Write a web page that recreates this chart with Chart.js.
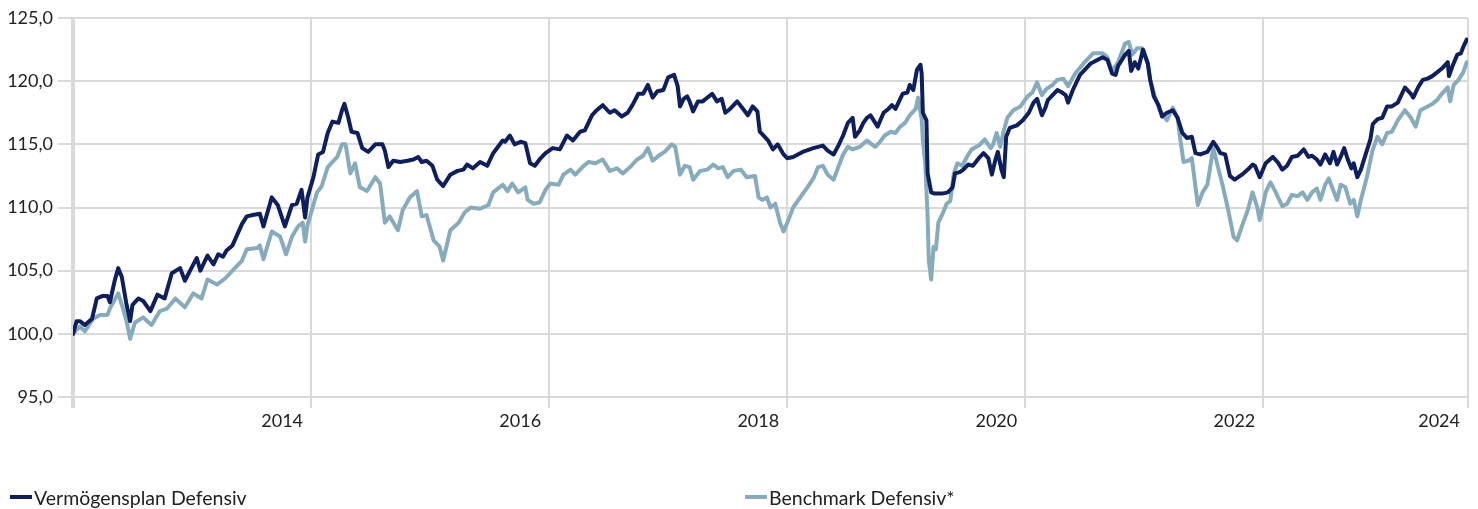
<!DOCTYPE html>
<html>
<head>
<meta charset="utf-8">
<script src="https://cdn.jsdelivr.net/npm/chart.js@4.4.1/dist/chart.umd.min.js"></script>
<style>
  body { margin: 0; background: #fff; }
  #wrap { position: relative; width: 1478px; height: 509px; }
  #legend { position: absolute; left: 0; top: 486px; width: 1478px; height: 22px; font: 19.5px Lato, sans-serif; color: #222; }
  .item { position: absolute; top: 0; height: 22px; display: flex; align-items: center; white-space: nowrap; }
  .swatch { width: 22px; height: 4px; margin-right: 2px; }
</style>
</head>
<body>
<div id="wrap">
  <canvas id="chart" width="1478" height="509"></canvas>
  <div id="legend"></div>
</div>
<script>
// x ticks (decimal years), gridlines mark year ends, labels sit left of them
const xTickValues = [2013, 2015, 2017, 2019, 2021, 2023, 2024.72];
const xTickLabels = ['', '2014', '2016', '2018', '2020', '2022', '2024'];

const seriesNames = ['Vermögensplan Defensiv', 'Benchmark Defensiv*'];
const seriesColors = ['#0d1f5f', '#85abbd'];

// Vermögensplan Defensiv
const vDates = [
  2013.00,2013.03,2013.06,2013.10,2013.16,2013.20,2013.25,2013.29,2013.31,2013.35,
  2013.38,2013.41,2013.45,2013.48,2013.50,2013.55,2013.59,2013.65,2013.71,2013.77,
  2013.83,2013.90,2013.94,2014.00,2014.04,2014.07,2014.13,2014.18,2014.22,2014.26,
  2014.29,2014.34,2014.42,2014.46,2014.51,2014.57,2014.60,2014.67,2014.72,2014.78,
  2014.84,2014.88,2014.92,2014.95,2014.97,2015.02,2015.06,2015.10,2015.14,2015.18,
  2015.23,2015.26,2015.28,2015.31,2015.34,2015.39,2015.43,2015.48,2015.54,2015.60,
  2015.62,2015.65,2015.69,2015.75,2015.81,2015.86,2015.90,2015.93,2015.97,2016.02,
  2016.06,2016.11,2016.17,2016.23,2016.28,2016.31,2016.36,2016.42,2016.48,2016.53,
  2016.61,2016.63,2016.67,2016.71,2016.76,2016.80,2016.84,2016.88,2016.92,2016.97,
  2017.03,2017.09,2017.15,2017.20,2017.26,2017.30,2017.36,2017.40,2017.45,2017.51,
  2017.55,2017.61,2017.66,2017.70,2017.75,2017.79,2017.83,2017.87,2017.91,2017.96,
  2018.00,2018.05,2018.08,2018.10,2018.13,2018.16,2018.18,2018.21,2018.25,2018.29,
  2018.37,2018.41,2018.45,2018.48,2018.52,2018.58,2018.63,2018.67,2018.71,2018.75,
  2018.77,2018.80,2018.84,2018.88,2018.92,2018.97,2019.00,2019.05,2019.13,2019.22,
  2019.30,2019.34,2019.39,2019.43,2019.47,2019.51,2019.55,2019.57,2019.61,2019.64,
  2019.67,2019.70,2019.72,2019.76,2019.81,2019.85,2019.88,2019.91,2019.97,2020.01,
  2020.03,2020.06,2020.09,2020.12,2020.13,2020.14,2020.17,2020.18,2020.21,2020.24,
  2020.30,2020.35,2020.39,2020.41,2020.45,2020.48,2020.52,2020.56,2020.61,2020.65,
  2020.69,2020.72,2020.75,2020.77,2020.80,2020.82,2020.84,2020.87,2020.93,2020.98,
  2021.03,2021.07,2021.10,2021.14,2021.17,2021.19,2021.23,2021.27,2021.31,2021.34,
  2021.36,2021.40,2021.46,2021.50,2021.55,2021.61,2021.65,2021.69,2021.73,2021.76,
  2021.78,2021.84,2021.87,2021.89,2021.92,2021.95,2021.99,2022.03,2022.05,2022.08,
  2022.12,2022.15,2022.19,2022.24,2022.28,2022.32,2022.36,2022.40,2022.43,2022.47,
  2022.53,2022.58,2022.61,2022.64,2022.68,2022.72,2022.76,2022.82,2022.87,2022.91,
  2022.93,2022.97,2023.02,2023.08,2023.12,2023.16,2023.20,2023.24,2023.29,2023.34,
  2023.38,2023.41,2023.45,2023.48,2023.52,2023.56,2023.59,2023.62,2023.65,2023.68,
  2023.71,2023.74,2023.76,2023.79,2023.82,2023.86,2023.90,2023.92,2023.96,2024.00,
  2024.04,2024.08,2024.13,2024.15,2024.19,2024.24,2024.26,2024.30,2024.34,2024.38,
  2024.42,2024.46,2024.50,2024.55,2024.56,2024.59,2024.63,2024.66,2024.68,2024.71
];
const vValues = [
  100.0,101.0,101.0,100.7,101.2,102.8,103.0,103.0,102.5,104.2,
  105.2,104.5,102.3,101.0,102.3,102.8,102.6,101.8,103.1,102.8,
  104.8,105.2,104.2,105.3,106.0,105.0,106.2,105.5,106.3,106.1,
  106.6,107.0,108.7,109.3,109.4,109.5,108.5,110.8,110.2,108.5,
  110.2,110.3,111.4,109.2,110.8,112.4,114.2,114.4,115.9,116.8,
  116.7,117.7,118.2,117.2,116.0,115.9,114.7,114.4,115.0,115.0,
  114.5,113.2,113.7,113.6,113.7,113.8,114.0,113.6,113.7,113.3,
  112.2,111.7,112.6,112.9,113.0,113.4,113.1,113.6,113.3,114.3,
  115.3,115.2,115.7,115.0,115.2,115.1,113.5,113.3,113.8,114.3,
  114.7,114.6,115.7,115.3,116.0,116.1,117.3,117.7,118.1,117.5,
  117.7,117.2,117.5,118.1,119.0,119.0,119.7,118.7,119.2,119.3,
  120.3,120.5,119.6,118.0,118.6,118.8,118.4,117.6,118.4,118.4,
  119.0,118.4,118.6,117.5,117.8,118.4,117.8,117.3,118.0,117.6,
  116.0,115.7,115.3,114.6,115.0,114.2,113.9,114.0,114.4,114.7,
  114.9,114.5,114.2,114.9,115.7,116.7,117.1,115.6,116.1,116.7,
  117.1,117.3,117.0,116.4,117.5,117.8,118.1,117.8,119.0,119.1,
  119.7,119.3,120.9,121.3,120.6,117.5,116.9,112.7,111.2,111.1,
  111.1,111.2,111.6,112.7,112.8,113.0,113.4,113.3,113.9,114.3,
  113.9,112.6,113.8,114.4,113.0,112.4,115.6,116.3,116.5,116.9,
  117.5,118.3,118.6,117.3,117.9,118.5,118.9,119.3,119.1,118.9,
  118.3,119.3,120.5,120.9,121.4,121.7,121.9,121.7,120.6,120.5,
  121.2,122.1,122.4,120.8,121.5,121.0,122.5,121.4,120.1,118.8,
  118.1,117.2,117.5,117.7,117.1,115.9,115.5,115.6,114.3,114.2,
  114.4,115.2,114.8,114.3,114.2,112.5,112.2,112.6,113.0,113.4,
  113.3,112.4,113.5,114.0,113.6,113.0,113.3,114.0,114.1,114.6,
  114.0,114.1,113.8,113.4,114.2,113.5,114.4,113.4,114.0,114.7,
  113.8,113.1,113.5,112.4,113.0,114.2,115.4,116.6,117.0,117.1,
  118.0,118.0,118.3,118.7,119.5,119.0,118.7,119.5,120.1,120.2,
  120.4,120.7,121.0,121.5,120.4,121.2,122.1,122.2,122.7,123.3
];

// Benchmark Defensiv*
const bDates = [
  2013.00,2013.06,2013.10,2013.17,2013.23,2013.29,2013.31,2013.38,2013.42,2013.45,
  2013.48,2013.52,2013.59,2013.66,2013.73,2013.79,2013.86,2013.94,2014.01,2014.08,
  2014.13,2014.21,2014.28,2014.34,2014.42,2014.46,2014.55,2014.57,2014.60,2014.67,
  2014.74,2014.79,2014.84,2014.89,2014.93,2014.95,2014.97,2015.05,2015.09,2015.14,
  2015.22,2015.26,2015.29,2015.33,2015.37,2015.41,2015.47,2015.54,2015.58,2015.62,
  2015.66,2015.73,2015.77,2015.83,2015.89,2015.93,2015.97,2016.03,2016.08,2016.11,
  2016.17,2016.24,2016.29,2016.34,2016.42,2016.49,2016.53,2016.61,2016.65,2016.69,
  2016.74,2016.80,2016.82,2016.87,2016.92,2016.97,2017.01,2017.08,2017.12,2017.18,
  2017.22,2017.28,2017.33,2017.39,2017.45,2017.51,2017.57,2017.62,2017.68,2017.74,
  2017.79,2017.83,2017.87,2017.92,2017.97,2018.03,2018.06,2018.10,2018.14,2018.18,
  2018.21,2018.27,2018.33,2018.38,2018.42,2018.46,2018.50,2018.55,2018.61,2018.66,
  2018.73,2018.76,2018.79,2018.83,2018.86,2018.90,2018.94,2018.97,2019.01,2019.05,
  2019.11,2019.17,2019.22,2019.26,2019.30,2019.34,2019.39,2019.43,2019.47,2019.51,
  2019.55,2019.61,2019.67,2019.74,2019.78,2019.82,2019.87,2019.91,2019.95,2019.99,
  2020.03,2020.08,2020.10,2020.13,2020.14,2020.16,2020.18,2020.19,2020.21,2020.23,
  2020.25,2020.27,2020.31,2020.34,2020.37,2020.40,2020.43,2020.47,2020.51,2020.55,
  2020.61,2020.66,2020.71,2020.73,2020.76,2020.79,2020.82,2020.85,2020.90,2020.96,
  2021.02,2021.06,2021.10,2021.14,2021.18,2021.23,2021.27,2021.32,2021.36,2021.42,
  2021.49,2021.57,2021.65,2021.69,2021.73,2021.78,2021.84,2021.87,2021.90,2021.94,
  2021.98,2022.03,2022.05,2022.09,2022.13,2022.19,2022.24,2022.28,2022.30,2022.33,
  2022.37,2022.40,2022.45,2022.49,2022.53,2022.58,2022.63,2022.66,2022.71,2022.75,
  2022.78,2022.82,2022.87,2022.91,2022.95,2022.97,2023.02,2023.06,2023.10,2023.16,
  2023.20,2023.24,2023.29,2023.33,2023.37,2023.41,2023.45,2023.48,2023.52,2023.55,
  2023.59,2023.62,2023.65,2023.69,2023.73,2023.76,2023.79,2023.82,2023.84,2023.87,
  2023.92,2023.96,2024.00,2024.04,2024.08,2024.13,2024.19,2024.24,2024.28,2024.32,
  2024.38,2024.42,2024.46,2024.50,2024.55,2024.57,2024.60,2024.64,2024.68,2024.71
];
const bValues = [
  100.0,100.6,100.2,101.2,101.5,101.5,102.0,103.2,102.0,101.0,
  99.6,100.9,101.3,100.7,101.8,102.0,102.8,102.1,103.2,102.8,
  104.3,103.9,104.4,105.0,105.8,106.7,106.8,107.0,105.9,108.1,
  107.7,106.3,107.7,108.5,108.8,107.3,108.6,111.2,111.7,113.2,
  114.0,115.0,115.0,112.7,113.5,111.6,111.3,112.4,111.9,108.8,
  109.3,108.2,109.8,110.8,111.3,109.3,109.4,107.4,106.9,105.8,
  108.2,108.8,109.6,110.0,109.9,110.2,111.2,111.8,111.3,111.9,
  111.2,111.6,110.6,110.3,110.4,111.4,111.9,111.8,112.6,113.0,
  112.6,113.2,113.6,113.5,113.8,112.9,113.1,112.7,113.2,113.8,
  114.1,114.7,113.7,114.1,114.4,115.0,114.8,112.6,113.3,113.2,
  112.2,112.9,113.0,113.4,113.1,113.2,112.4,112.9,113.0,112.4,
  112.5,110.8,110.6,110.8,110.0,110.3,108.8,108.1,109.0,110.0,
  110.8,111.6,112.3,113.2,113.3,112.6,112.2,113.2,114.2,114.8,
  114.6,114.8,115.3,114.8,115.2,115.7,116.0,115.9,116.4,116.7,
  117.3,117.8,118.7,117.0,115.3,113.5,109.3,105.8,104.3,106.9,
  106.7,108.8,109.6,110.3,110.5,112.7,113.5,113.3,114.0,114.6,
  114.9,115.4,114.7,115.0,115.9,114.8,116.1,117.1,117.7,118.0,
  118.8,119.1,119.9,118.9,119.4,119.7,120.1,120.2,119.6,120.6,
  121.4,122.2,122.2,121.9,120.8,121.5,123.0,123.1,122.1,122.6,
  122.6,121.4,120.1,118.8,117.7,116.9,117.9,117.1,115.6,113.6,
  113.7,113.9,110.2,111.2,111.8,114.7,112.8,111.7,109.6,107.7,
  107.4,108.5,109.8,111.2,110.0,109.0,111.2,112.0,111.3,110.1,
  110.3,111.0,110.9,111.2,110.6,111.2,111.5,110.6,111.8,112.3,
  111.3,110.6,111.8,111.6,110.3,110.6,109.3,110.6,111.3,112.4,
  114.6,115.6,115.0,115.9,116.0,116.9,117.7,117.1,116.4,117.7,
  118.0,118.2,118.5,119.0,119.5,118.4,119.7,120.1,120.7,121.5
];

const yMin = 95, yMax = 125, yStep = 5;

const fontFamily = 'Lato, sans-serif';
const textColor = '#222';
const gridColor = '#d9d9d9';

function toPoints(dates, values) {
    return dates.map((d, i) => ({ x: d, y: values[i] }));
}

const ctx = document.getElementById('chart').getContext('2d');
const chart = new Chart(ctx, {
    type: 'line',
    data: {
        datasets: [{
            label: seriesNames[0],
            data: toPoints(vDates, vValues),
            borderColor: seriesColors[0],
            borderWidth: 4,
            pointRadius: 0,
            tension: 0,
            borderJoinStyle: 'round',
            borderCapStyle: 'round'
        }, {
            label: seriesNames[1],
            data: toPoints(bDates, bValues),
            borderColor: seriesColors[1],
            borderWidth: 4,
            pointRadius: 0,
            tension: 0,
            borderJoinStyle: 'round',
            borderCapStyle: 'round'
        }]
    },
    options: {
        responsive: false,
        animation: false,
        layout: { padding: { left: 0, right: 10, top: 18, bottom: 72 } },
        plugins: {
            legend: { display: false },
            tooltip: { enabled: false }
        },
        scales: {
            x: {
                type: 'linear',
                min: xTickValues[0],
                max: xTickValues[xTickValues.length - 1],
                afterBuildTicks: (scale) => {
                    scale.ticks = xTickValues.map(v => ({ value: v }));
                },
                afterFit: (scale) => { scale.height = 40; },
                border: { display: false },
                grid: {
                    color: gridColor,
                    lineWidth: (c) => c.index === 0 ? 4 : 2,
                    tickLength: 11
                },
                ticks: {
                    autoSkip: false,
                    maxRotation: 0,
                    align: 'end',
                    labelOffset: -8,
                    padding: 2,
                    color: textColor,
                    font: { family: fontFamily, size: 18 },
                    callback: (value, index) => xTickLabels[index]
                }
            },
            y: {
                min: yMin,
                max: yMax,
                afterFit: (scale) => { scale.width = 73; },
                border: { display: false },
                grid: {
                    color: gridColor,
                    lineWidth: 2,
                    tickLength: 15
                },
                ticks: {
                    stepSize: yStep,
                    padding: 5,
                    color: textColor,
                    font: { family: fontFamily, size: 18 },
                    callback: (v) => v.toFixed(1).replace('.', ',')
                }
            }
        }
    }
});

// legend, two columns like the original
let legendDiv = document.getElementById('legend');
const legendLeft = [10, 745];
seriesNames.forEach((name, i) => {
    let item = document.createElement('div');
    item.className = 'item';
    item.style.left = legendLeft[i] + 'px';
    let sw = document.createElement('span');
    sw.className = 'swatch';
    sw.style.background = seriesColors[i];
    item.appendChild(sw);
    item.appendChild(document.createTextNode(name));
    legendDiv.appendChild(item);
});
</script>
</body>
</html>
